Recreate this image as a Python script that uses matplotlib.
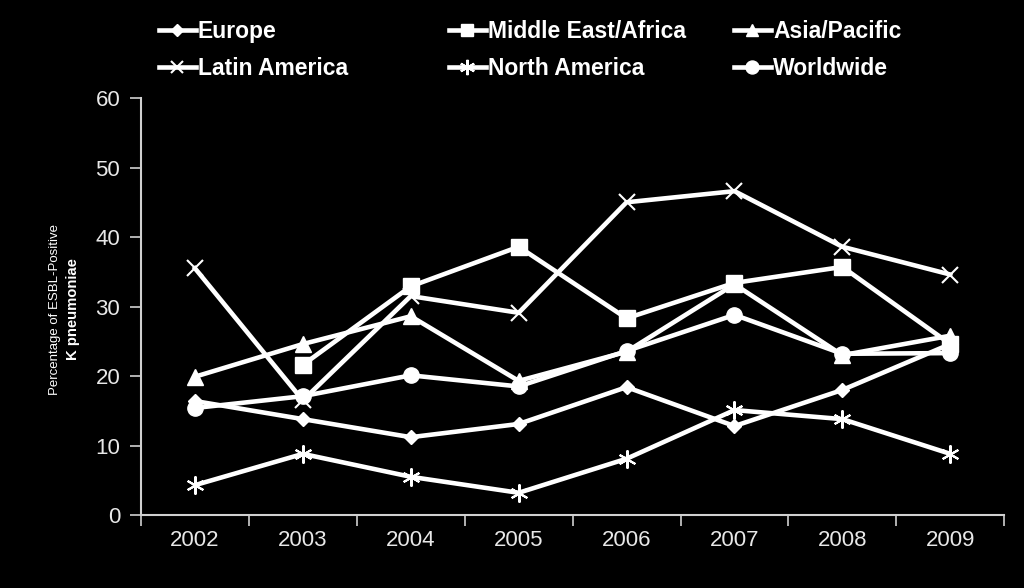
import matplotlib
matplotlib.use("Agg")
import matplotlib.pyplot as plt
from matplotlib.lines import Line2D
import numpy as np

years = ["2002", "2003", "2004", "2005", "2006", "2007", "2008", "2009"]
europe = [16.4, 13.8, 11.2, 13.1, 18.4, 12.8, 18.0, 24.6]
middle_east_africa = [None, 21.6, 32.9, 38.6, 28.3, 33.4, 35.7, 24.6]
asia_pacific = [19.9, 24.6, 28.6, 19.3, 23.5, 33.2, 23.0, 25.8]
latin_america = [35.5, 16.5, 31.5, 29.1, 45.0, 46.6, 38.6, 34.6]
north_america = [4.3, 8.8, 5.5, 3.2, 8.1, 15.1, 13.8, 8.8]
worldwide = [15.4, 17.1, 20.1, 18.5, 23.6, 28.8, 23.2, 23.3]

series = [
    ("Europe", europe, "D", 7),
    ("Middle East/Africa", middle_east_africa, "s", 11),
    ("Asia/Pacific", asia_pacific, "^", 11),
    ("Latin America", latin_america, "x", 11),
    ("North America", north_america, (6, 2, 0), 13),
    ("Worldwide", worldwide, "o", 11),
]

plt.rcParams['font.family'] = ['Liberation Sans', 'DejaVu Sans']
fig = plt.figure(figsize=(10.24, 5.88), dpi=100, facecolor="black")
ax = fig.add_axes([0.1377, 0.1241, 0.843, 0.7092], facecolor="black")

x = np.arange(len(years))
handles = []
for name, vals, mk, ms in series:
    y = np.array([np.nan if v is None else v for v in vals], dtype=float)
    mew = 1.5 if mk in ("x",) or isinstance(mk, tuple) else 1
    ax.plot(x, y, color="white", lw=3.3, marker=mk, markersize=ms,
            markerfacecolor="white", markeredgecolor="white",
            markeredgewidth=mew, solid_joinstyle="miter")
    handles.append(Line2D([0], [0], color="white", lw=3.3, marker=mk,
                          markersize=ms * 0.85, markerfacecolor="white",
                          markeredgecolor="white", markeredgewidth=mew))

ax.set_xlim(-0.5, 7.5)
ax.set_ylim(0, 60)
ax.set_yticks(range(0, 61, 10))
ax.set_xticks(x)
ax.set_xticklabels(years)
ax.set_xticks(np.arange(-0.5, 8, 1), minor=True)
ax.tick_params(axis="x", which="major", length=0, pad=11, labelsize=16, colors="#e8e8e8")
ax.tick_params(axis="x", which="minor", length=8, width=1.2, color="#d0d0d0", direction="out")
ax.tick_params(axis="y", length=8, width=1.2, color="#d0d0d0", labelsize=16,
               labelcolor="#e8e8e8", pad=7, direction="out")
for s in ["top", "right"]:
    ax.spines[s].set_visible(False)
for s in ["left", "bottom"]:
    ax.spines[s].set_color("#d0d0d0")
    ax.spines[s].set_linewidth(1.5)

fig.text(0.054, 0.474, "Percentage of ESBL-Positive", rotation=90, color="white",
         fontsize=9.5, ha="center", va="center")
fig.text(0.071, 0.474, "K pneumoniae", rotation=90, color="white",
         fontsize=10.7, fontweight="bold", ha="center", va="center")

# legend: three columns placed manually, row-wise order
col_x = [159, 449, 734]
names = [s[0] for s in series]
for c in range(3):
    idx = [c, c + 3]
    leg = fig.legend([handles[i] for i in idx], [names[i] for i in idx],
                     loc="upper left", bbox_to_anchor=(col_x[c] / 1024, 1 - 20 / 588),
                     frameon=False, handlelength=1.6, handletextpad=0.1,
                     labelspacing=0.62, borderaxespad=0, borderpad=0,
                     prop={"family": "Liberation Sans", "weight": "bold", "size": 16.5})
    for t in leg.get_texts():
        t.set_color("white")

fig.savefig("out.png", dpi=100, facecolor="black")
